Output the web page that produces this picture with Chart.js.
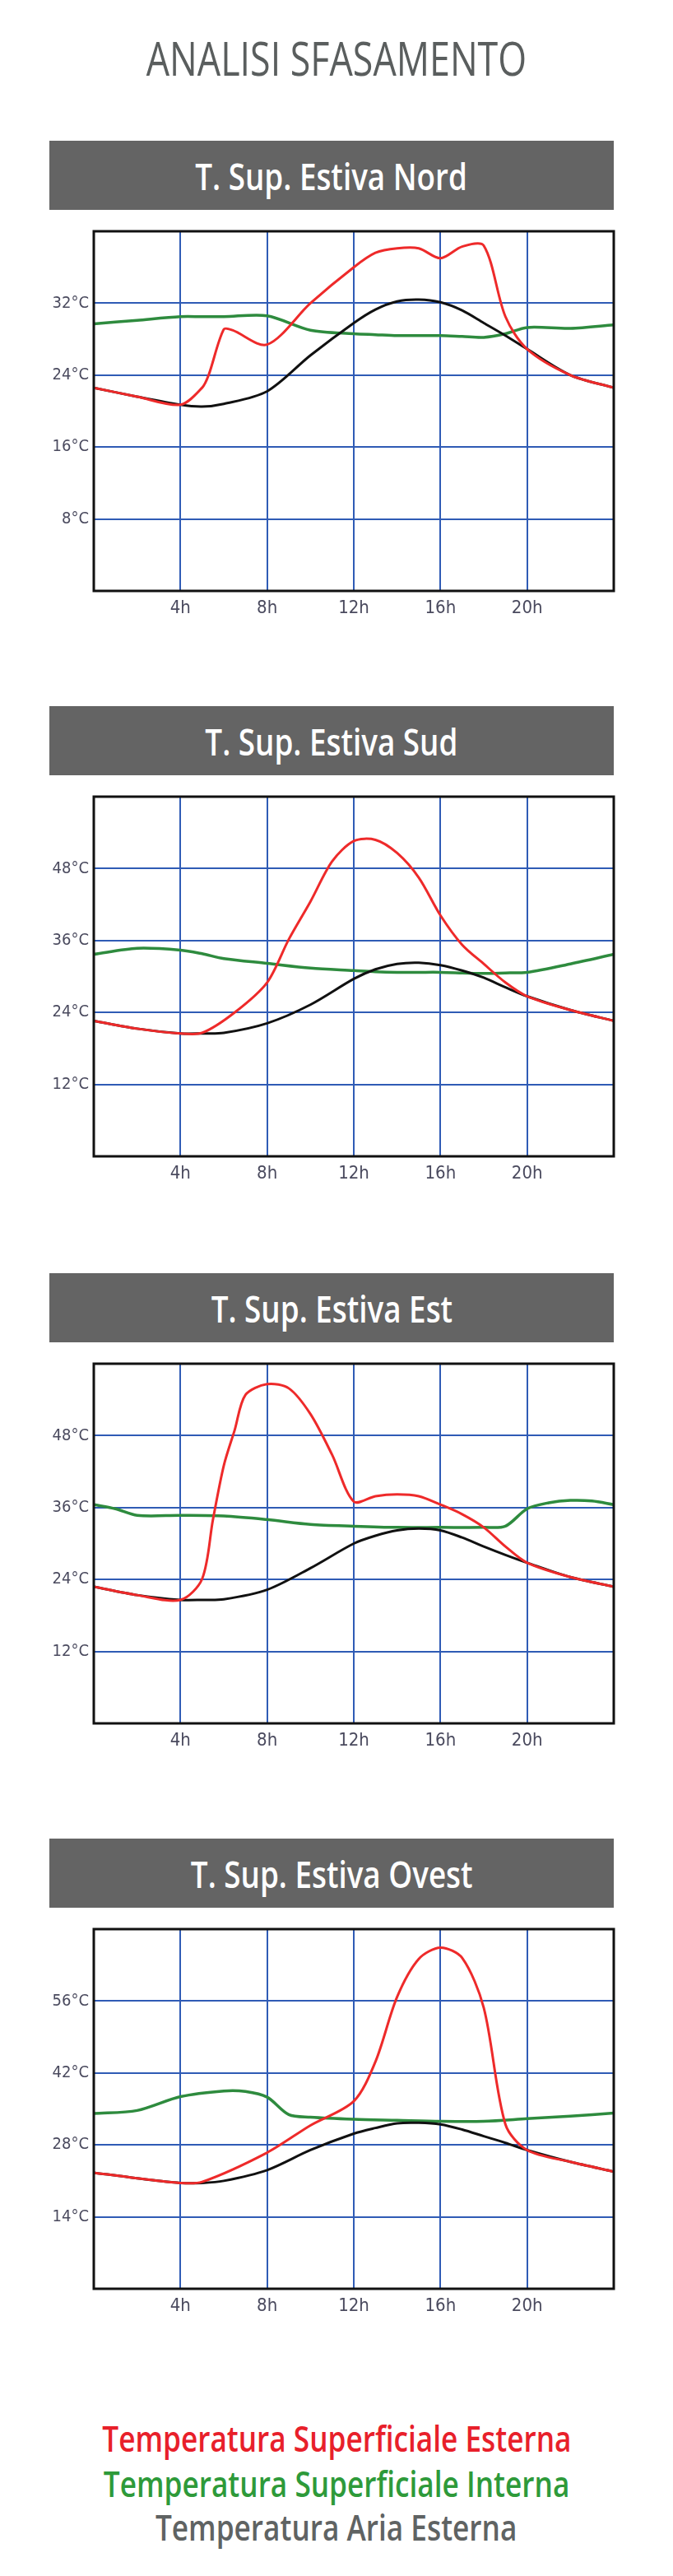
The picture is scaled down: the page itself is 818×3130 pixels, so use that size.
<!DOCTYPE html>
<html>
<head>
<meta charset="utf-8">
<script src="https://cdn.jsdelivr.net/npm/chart.js@4.4.1/dist/chart.umd.min.js"></script>
<style>
  body { margin: 0; background: #fff; width: 818px; height: 3130px; position: relative; overflow: hidden; font-family: "Open Sans", sans-serif; }
  .title { position: absolute; left: 0; width: 818px; top: 30px; text-align: center; font-size: 56px; color: #5a5e5e; line-height: 80px; }
  .title span, .head span, .leg span { display: inline-block; transform: scaleX(0.8); }
  .head { position: absolute; left: 60px; width: 686px; height: 84px; background: #646464; color: #fff; text-align: center; font-size: 46px; font-weight: 600; line-height: 84px; }
  .box { position: absolute; left: 0; width: 818px; height: 505px; }
  .leg { position: absolute; left: 0; width: 818px; text-align: center; font-size: 44px; font-weight: 600; line-height: 54px; }
</style>
</head>
<body>
<div class="title"><span>ANALISI SFASAMENTO</span></div>

<div class="head" style="top:171px"><span>T. Sup. Estiva Nord</span></div>
<div class="box" style="top:263px"><canvas id="c1"></canvas></div>
<div class="head" style="top:858px"><span>T. Sup. Estiva Sud</span></div>
<div class="box" style="top:950px"><canvas id="c2"></canvas></div>
<div class="head" style="top:1547px"><span>T. Sup. Estiva Est</span></div>
<div class="box" style="top:1639px"><canvas id="c3"></canvas></div>
<div class="head" style="top:2234px"><span>T. Sup. Estiva Ovest</span></div>
<div class="box" style="top:2326px"><canvas id="c4"></canvas></div>

<div class="leg" style="top:2935px;color:#e8202a"><span>Temperatura Superficiale Esterna</span></div>
<div class="leg" style="top:2990px;color:#2e9a3a"><span>Temperatura Superficiale Interna</span></div>
<div class="leg" style="top:3043px;color:#5f6363"><span>Temperatura Aria Esterna</span></div>

<script>
// ore
var ore = [0,2,4,5,6,8,10,12,13,14,15,16,17,18,19,20,22,24];

// Nord
var nordRossoOre = [0,2,4,5,5.3,6,6.4,8,10,12,13,14,15,16,17,18,19,20,22,24];
var nordRosso    = [22.6,21.6,20.7,22.6,24,29.1,29,27.4,32,36,37.6,38.1,38.1,37,38.3,38.4,30.5,26.9,24,22.6];
var nordAria     = [22.6,21.6,20.7,20.5,20.8,22.2,26.2,29.8,31.3,32.2,32.4,32.1,31.2,29.8,28.4,26.9,24,22.6];
var nordInterna  = [29.7,30.1,30.5,30.5,30.5,30.6,29,28.6,28.5,28.4,28.4,28.4,28.3,28.2,28.6,29.3,29.2,29.6];

// Sud
var sudRossoOre = [0,2,4,5,6.5,8,9,10,11,12,13,14,15,16,17,18,19,20,22,24];
var sudRosso    = [22.6,21.3,20.5,20.6,24,29,36.2,42.5,49.2,52.6,52.8,50.6,46.5,40.2,35.3,32.1,29,26.7,24.4,22.6];
var sudAria     = [22.6,21.3,20.5,20.5,20.6,22.2,25.3,29.6,31.2,32.1,32.3,31.9,31,29.8,28.2,26.7,24.4,22.6];
var sudInterna  = [33.7,34.7,34.4,33.8,33,32.2,31.4,31,30.8,30.7,30.7,30.7,30.6,30.5,30.6,30.7,32.1,33.7];

// Est
var estRossoOre = [0,2,4,5,5.5,6,6.5,7,8,9,10,11,12,13,14,15,16,17,18,19,20,22,24];
var estRosso    = [22.8,21.4,20.6,24.1,34,43,48.9,54.8,56.6,55.9,51.6,44.8,37,37.9,38.2,37.9,36.5,34.9,32.7,29.5,26.8,24.4,22.8];
var estAria     = [22.8,21.4,20.6,20.6,20.7,22.3,25.9,30,31.3,32.2,32.5,32.2,31,29.5,28.1,26.8,24.4,22.8];
var estInternaOre = [0,1,2,4,6,8,10,12,14,16,18,19,20,21,22,23,24];
var estInterna    = [36.5,35.8,34.7,34.7,34.6,34,33.2,32.9,32.7,32.7,32.7,32.9,35.8,36.8,37.2,37.1,36.5];

// Ovest
var ovestRossoOre = [0,2,4,5,8,10,12,13,14,15,16,17,18,19,20,22,24];
var ovestRosso    = [22.6,21.5,20.6,20.8,26.5,31.8,36.5,44.2,56.8,64.2,66.4,64.4,54.7,32,27,24.7,22.8];
var ovestAria     = [22.6,21.5,20.6,20.6,21,23.1,27,30.2,31.3,32.2,32.3,32,31,29.7,28.4,27,24.7,22.8];
var ovestInternaOre = [0,2,4,6,7,8,9,10,12,14,16,18,20,22,24];
var ovestInterna    = [34.1,34.7,37.4,38.5,38.4,37.3,33.9,33.4,33,32.8,32.6,32.6,33.1,33.6,34.2];

function punti(xs, ys) {
  return xs.map(function(x, i){ return {x: x, y: ys[i]}; });
}

var cornice = {
  id: 'cornice',
  afterDraw: function(chart) {
    var a = chart.chartArea, ctx = chart.ctx;
    ctx.save();
    ctx.strokeStyle = '#111';
    ctx.lineWidth = 3;
    ctx.strokeRect(a.left, a.top, a.right - a.left, a.bottom - a.top);
    ctx.restore();
  }
};

var fontTick = 'DejaVu Sans Condensed, Roboto Condensed, Liberation Sans Narrow, sans-serif';

function grafico(id, rossoOre, rosso, aria, internaOre, interna, yMax, passo) {
  new Chart(document.getElementById(id), {
    type: 'line',
    data: {
      datasets: [
        { data: punti(rossoOre, rosso), borderColor: '#ee2a2a', borderWidth: 3 },
        { data: punti(ore, aria), borderColor: '#111111', borderWidth: 3 },
        { data: punti(internaOre, interna), borderColor: '#2e8b3e', borderWidth: 3.5 }
      ]
    },
    options: {
      responsive: false,
      animation: false,
      devicePixelRatio: 1,
      elements: { point: { radius: 0 }, line: { tension: 0.3 } },
      layout: { padding: { left: 54, right: 72, top: 10, bottom: 10 } },
      plugins: { legend: { display: false }, tooltip: { enabled: false } },
      scales: {
        x: {
          type: 'linear', min: 0, max: 24,
          afterFit: function(s){ s.height = 40; },
          grid: { color: '#2f5bb5', lineWidth: 2, drawTicks: false },
          border: { display: false },
          ticks: {
            stepSize: 4, padding: 8, color: '#4a4a5e',
            font: { family: fontTick, size: 22 },
            callback: function(v){ return (v === 0 || v === 24) ? '' : v + 'h'; }
          }
        },
        y: {
          min: 0, max: yMax,
          afterFit: function(s){ s.width = 60; },
          grid: { color: '#2f5bb5', lineWidth: 2, drawTicks: false },
          border: { display: false },
          ticks: {
            stepSize: passo, padding: 6, color: '#4a4a5e',
            font: { family: fontTick, size: 20 },
            callback: function(v){ return (v === 0 || v === yMax) ? '' : v + '°C'; }
          }
        }
      }
    },
    plugins: [cornice]
  });
}

['c1','c2','c3','c4'].forEach(function(id){
  var c = document.getElementById(id);
  c.width = 818; c.height = 505;
});

grafico('c1', nordRossoOre, nordRosso, nordAria, ore, nordInterna, 40, 8);
grafico('c2', sudRossoOre, sudRosso, sudAria, ore, sudInterna, 60, 12);
grafico('c3', estRossoOre, estRosso, estAria, estInternaOre, estInterna, 60, 12);
grafico('c4', ovestRossoOre, ovestRosso, ovestAria, ovestInternaOre, ovestInterna, 70, 14);
</script>
</body>
</html>
